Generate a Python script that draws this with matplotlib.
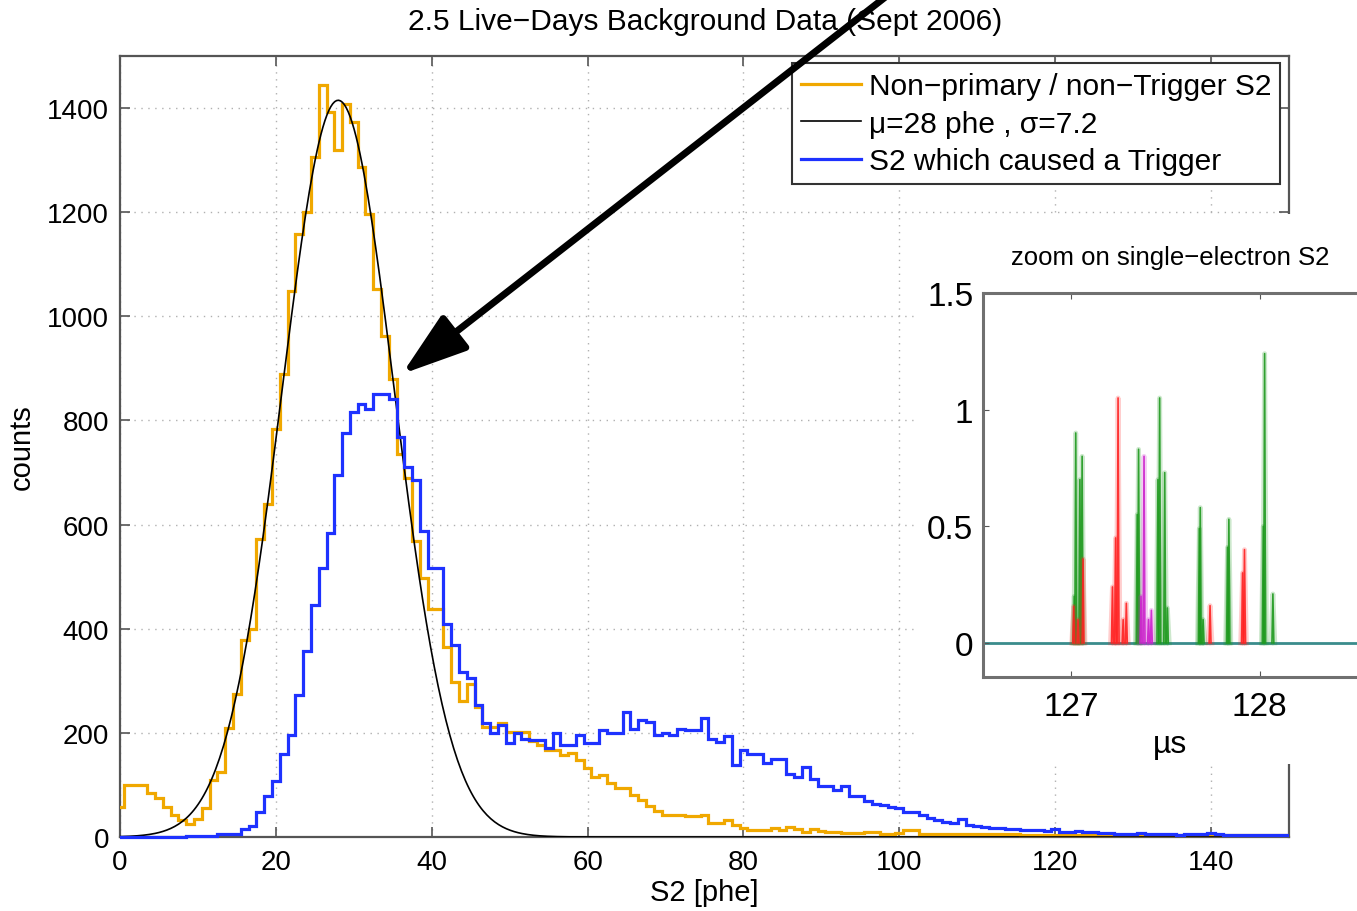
import numpy as np
import matplotlib
matplotlib.use('Agg')
import matplotlib.pyplot as plt
from matplotlib.patches import FancyArrowPatch, Rectangle

plt.rcParams['font.family'] = ['Liberation Sans', 'DejaVu Sans']

# S2 histogram, 1 phe bins centred on 0..150
orange_counts = [57, 100, 100, 100, 85, 75, 58, 42, 32, 25,
                 35, 55, 110, 124, 210, 274, 378, 400, 572, 640,
                 784, 889, 1049, 1158, 1200, 1306, 1444, 1392, 1319, 1408,
                 1373, 1287, 1197, 1053, 963, 880, 736, 690, 568, 497,
                 437, 437, 365, 297, 262, 294, 250, 211, 211, 218,
                 202, 202, 202, 185, 177, 167, 167, 157, 161, 148,
                 132, 116, 119, 103, 94, 94, 81, 72, 59, 49,
                 43, 43, 43, 40, 40, 43, 27, 27, 32, 24,
                 18, 14, 14, 14, 18, 14, 19, 16, 10, 16,
                 12, 10, 10, 8, 8, 8, 10, 10, 6, 6,
                 8, 13, 13, 6, 6, 6, 6, 6, 5, 5,
                 5, 5, 5, 5, 5, 5, 4, 4, 4, 4,
                 4, 4, 4, 4, 4, 4, 3, 3, 3, 3,
                 3, 3, 3, 3, 3, 3, 3, 3, 3, 3,
                 3, 3, 3, 3, 3, 3, 3, 3, 3, 3, 3]
blue_counts = [0, 0, 0, 0, 0, 0, 0, 0, 0, 1,
               1, 2, 2, 5, 5, 6, 15, 22, 48, 79,
               108, 160, 195, 273, 357, 445, 517, 584, 695, 775,
               816, 832, 822, 851, 851, 841, 768, 711, 686, 587,
               517, 517, 409, 369, 317, 305, 254, 218, 199, 215,
               180, 199, 189, 186, 186, 170, 200, 176, 176, 196,
               180, 180, 206, 199, 199, 240, 208, 225, 221, 196,
               200, 196, 208, 206, 206, 229, 189, 183, 194, 138,
               168, 159, 159, 143, 149, 149, 121, 115, 134, 111,
               97, 97, 91, 98, 78, 78, 70, 64, 62, 58,
               55, 48, 48, 42, 37, 33, 28, 26, 34, 24,
               22, 20, 18, 17, 16, 15, 14, 13, 13, 12,
               16, 10, 10, 11, 9, 9, 8, 7, 5, 5,
               6, 7, 6, 5, 6, 5, 4, 5, 6, 5,
               7, 5, 4, 4, 3, 4, 4, 3, 3, 3, 3]
bin_edges = np.arange(-0.5, 151.0, 1.0)

# gaussian fit from the legend
fit_mu = 28.0
fit_sigma = 7.2
fit_amp = 1415.0

# inset: single-electron S2 spikes (time in us, amplitude)
green_t = [127.015, 127.023, 127.045, 127.057, 127.35, 127.357, 127.46, 127.469,
           127.496, 127.51, 127.68, 127.685, 127.70, 127.83, 127.837, 128.02,
           128.027, 128.071]
green_v = [0.2, 0.90, 0.7, 0.80, 0.55, 0.83, 0.7, 1.05,
           0.73, 0.15, 0.49, 0.58, 0.1, 0.41, 0.53, 0.5,
           1.24, 0.21]
red_t = [127.012, 127.035, 127.062, 127.218, 127.235, 127.248, 127.275, 127.292,
         127.737, 127.91, 127.92]
red_v = [0.157, 0.1, 0.36, 0.24, 0.45, 1.05, 0.1, 0.17,
         0.16, 0.3, 0.40]
mag_t = [127.37, 127.386, 127.41, 127.425]
mag_v = [0.2, 0.80, 0.1, 0.14]

W, H = 1357, 912
fig = plt.figure(figsize=(W / 100, H / 100), dpi=100)

ORANGE = '#f0a800'
BLUE = '#1e32ff'
SPINE = '#555555'

ax = fig.add_axes([120 / W, (H - 838) / H, 1169 / W, 781 / H])
# let the histograms sit on the x axis without being cut in half
clip = Rectangle((0, -0.01), 1, 1.02, transform=ax.transAxes, visible=False)
ax.add_patch(clip)

orange_line = ax.stairs(orange_counts, bin_edges, color=ORANGE, lw=2.3, baseline=None,
                        label='Non\u2212primary / non\u2212Trigger S2', zorder=3)
orange_line.set_clip_path(clip)
xs = np.linspace(0, 150, 600)
ax.plot(xs, fit_amp * np.exp(-0.5 * ((xs - fit_mu) / fit_sigma) ** 2),
        color='black', lw=1.2, label='\u03bc=28 phe , \u03c3=7.2', zorder=4)
blue_line = ax.stairs(blue_counts, bin_edges, color=BLUE, lw=2.3, baseline=None,
                      label='S2 which caused a Trigger', zorder=5)
blue_line.set_clip_path(clip)

ax.set_xlim(0, 150)
ax.set_ylim(0, 1500)
ax.set_xticks(range(0, 141, 20))
ax.set_yticks(range(0, 1401, 200))
ax.grid(True, color='#b0b0b0', lw=1.0, linestyle=(0, (1, 4)))
ax.tick_params(direction='in', length=7, width=1.2, color=SPINE,
               top=True, right=True, labelsize=20)
ax.tick_params(axis='x', pad=9)
ax.tick_params(axis='y', pad=8)
for s in ax.spines.values():
    s.set_color(SPINE)
    s.set_linewidth(1.6)
ax.set_xlabel('S2 [phe]', fontsize=21, labelpad=2)
ax.set_ylabel('counts', fontsize=21, labelpad=8)

leg = ax.legend(loc='upper right', bbox_to_anchor=(1280 / W, 1 - 64 / H),
                bbox_transform=fig.transFigure, borderaxespad=0, fontsize=21.5,
                fancybox=False, handlelength=2.0, handletextpad=0.25,
                labelspacing=0.32, borderpad=0.3, framealpha=1)
leg.get_frame().set_edgecolor('#333333')
leg.get_frame().set_linewidth(1.5)

fig.text(705 / W, 1 - 22 / H, '2.5 Live\u2212Days Background Data (Sept 2006)',
         ha='center', va='center', fontsize=21.5)

# white patch behind the inset
bg = fig.add_axes([915 / W, (H - 765) / H, 442 / W, 550 / H])
bg.set_xticks([])
bg.set_yticks([])
for s in bg.spines.values():
    s.set_visible(False)
bg.set_facecolor('white')

ins = fig.add_axes([983 / W, (H - 678) / H, 380 / W, 384 / H])
ins.axhline(0, color='#3a8c8c', lw=2, zorder=1)


def spikes(axis, ts, vs, col):
    for t, v in zip(ts, vs):
        axis.plot([t - 0.010, t, t + 0.010], [0, v, 0], color=col, lw=3.5, alpha=0.22)
        axis.plot([t - 0.005, t, t + 0.005], [0, v, 0], color=col, lw=1.2, alpha=0.9)


spikes(ins, green_t, green_v, '#1f9a1f')
spikes(ins, red_t, red_v, '#ff2222')
spikes(ins, mag_t, mag_v, '#cc22cc')
ins.set_xlim(126.53, 128.55)
ins.set_ylim(-0.146, 1.5)
ins.set_xticks([127, 128])
ins.set_yticks([0, 0.5, 1, 1.5])
ins.set_yticklabels(['0', '0.5', '1', '1.5'])
ins.tick_params(direction='in', length=4, color=SPINE, top=True, right=True,
                labelsize=24)
ins.tick_params(axis='x', pad=10)
ins.tick_params(axis='y', pad=7)
for s in ins.spines.values():
    s.set_color('#707070')
    s.set_linewidth(2.2)
fig.text(1170 / W, 1 - 258 / H, 'zoom on single\u2212electron S2',
         ha='center', va='center', fontsize=18.5)
fig.text(1170 / W, 1 - 745 / H, '\u00b5s', ha='center', va='center', fontsize=23)

arrow = FancyArrowPatch(posA=(888 / W, 1 + 4 / H), posB=(402 / W, 1 - 375 / H),
                        transform=fig.transFigure,
                        arrowstyle='-|>,head_length=1.0,head_width=0.33',
                        mutation_scale=40, lw=5, color='black',
                        shrinkA=0, shrinkB=0)
fig.add_artist(arrow)

fig.savefig('out.png', dpi=100)
